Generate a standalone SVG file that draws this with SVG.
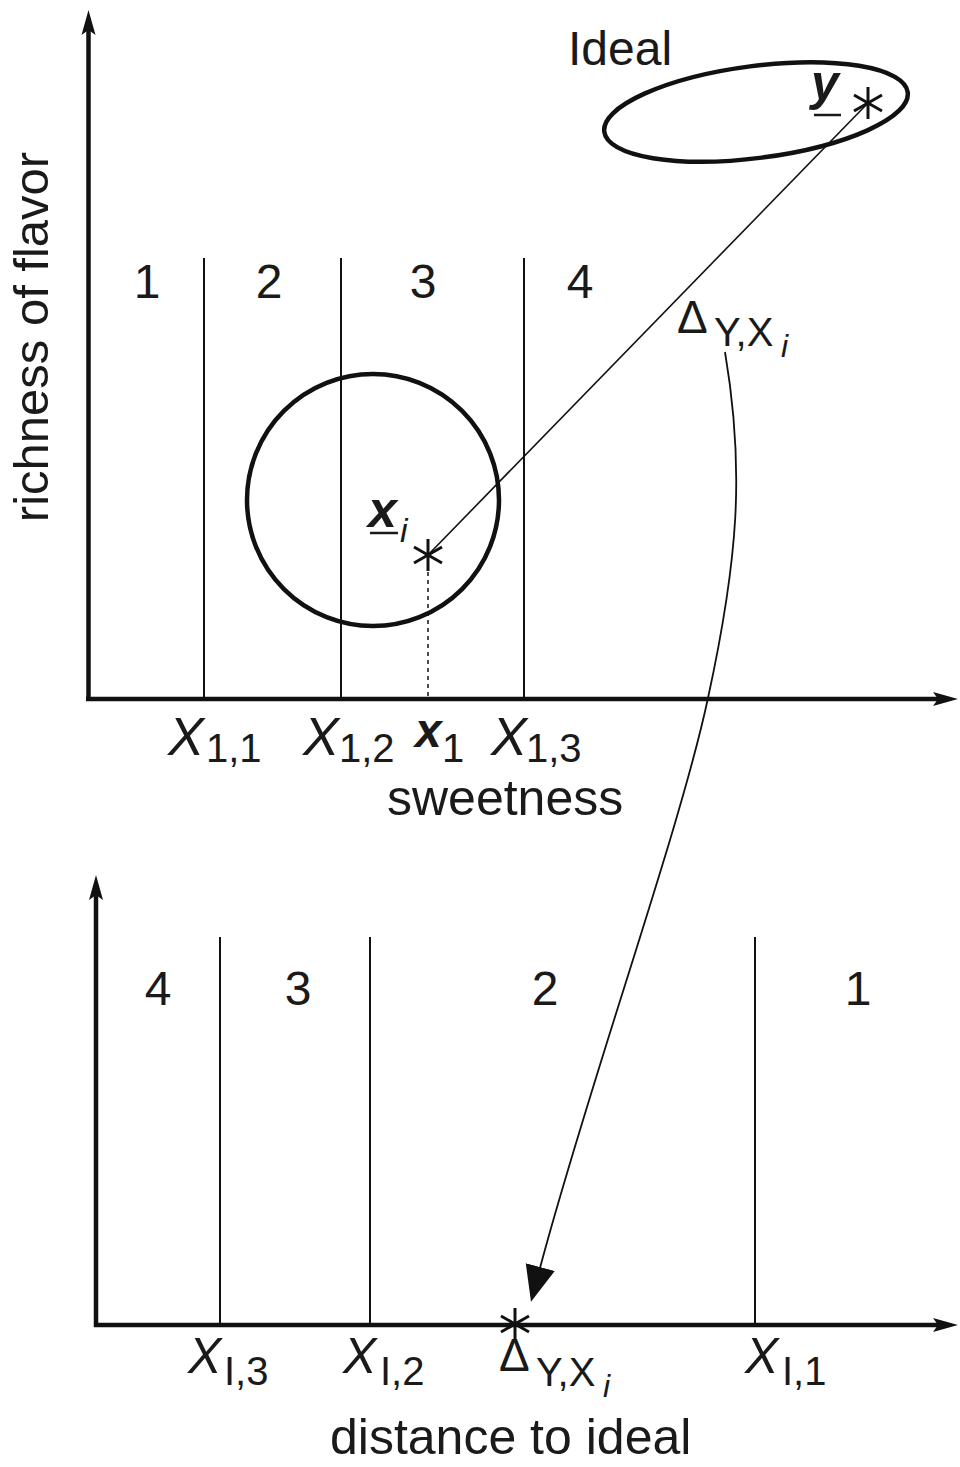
<svg xmlns="http://www.w3.org/2000/svg" width="960" height="1467" viewBox="0 0 960 1467">
<style>
text{font-family:"Liberation Sans",Arial,sans-serif;fill:#1a1a1a}
.n{font-size:48px}
.X{font-size:54px;font-style:italic}
.s{font-size:40px}
.si{font-size:32px;font-style:italic}
.bi{font-size:48px;font-style:italic;font-weight:bold}
.d{font-size:46px}
.axis{stroke:#111;stroke-width:4.5;fill:none}
.thin{stroke:#111;stroke-width:2;fill:none}
.thick{stroke:#111;stroke-width:4.5;fill:none}
.star line{stroke:#111;stroke-width:3}
</style>
<defs>
<marker id="ax" markerUnits="userSpaceOnUse" markerWidth="30" markerHeight="20" viewBox="0 -10 30 20" refX="5" refY="0" orient="auto">
<path d="M0,-7 L25,0 L0,7 L5,0 Z" fill="#111"/>
</marker>
<marker id="big" markerUnits="userSpaceOnUse" markerWidth="40" markerHeight="34" viewBox="0 -17 40 34" refX="1" refY="0" orient="auto">
<path d="M0,-15 L36,0 L0,15 Z" fill="#111"/>
</marker>
<g id="star" class="star">
<line x1="0" y1="-16" x2="0" y2="16"/>
<line x1="-14" y1="-8" x2="14" y2="8"/>
<line x1="-14" y1="8" x2="14" y2="-8"/>
</g>
</defs>

<g id="connectors">
<line class="axis" x1="88.5" y1="701" x2="88.5" y2="30" marker-end="url(#ax)"/>
<line class="axis" x1="86" y1="699" x2="938" y2="699" marker-end="url(#ax)"/>
<line class="axis" x1="96" y1="1327" x2="96" y2="895" marker-end="url(#ax)"/>
<line class="axis" x1="94" y1="1325" x2="938" y2="1325" marker-end="url(#ax)"/>
<line class="thin" x1="204" y1="258" x2="204" y2="699"/>
<line class="thin" x1="341" y1="258" x2="341" y2="699"/>
<line class="thin" x1="524" y1="258" x2="524" y2="699"/>
<line stroke="#111" stroke-width="1.5" stroke-dasharray="4 4" x1="428" y1="572" x2="428" y2="699"/>
<line class="thin" x1="220" y1="937" x2="220" y2="1325"/>
<line class="thin" x1="370" y1="937" x2="370" y2="1325"/>
<line class="thin" x1="755" y1="937" x2="755" y2="1325"/>
<line stroke="#111" stroke-width="1.6" x1="428" y1="555" x2="868" y2="103"/>
<path stroke="#111" stroke-width="1.8" fill="none" d="M725,352 C745,470 738,560 708,698 C680,830 590,1080 540,1268" marker-end="url(#big)"/>
</g>

<g id="ideal-ellipse">
<ellipse class="thick" cx="756" cy="112" rx="153" ry="46" transform="rotate(-7.4 756 112)"/>
<text class="n" x="568" y="65">Ideal</text>
</g>

<g id="y-point">
<use href="#star" x="868" y="103"/>
<text class="bi" x="811" y="100" style="font-size:50px">y</text>
<line stroke="#1a1a1a" stroke-width="2.5" x1="814" y1="115" x2="841" y2="115"/>
</g>

<g id="xi-circle">
<circle class="thick" cx="373" cy="500" r="126"/>
<use href="#star" x="428" y="555"/>
<text class="bi" x="368" y="527" style="font-size:52px">x</text>
<line stroke="#1a1a1a" stroke-width="2.5" x1="370" y1="533" x2="398" y2="533"/>
<text class="si" x="400" y="542" style="font-size:34px">i</text>
</g>

<g id="delta-label">
<text class="d" x="677" y="333">Δ</text>
<text class="s" x="714" y="346">Y,X</text>
<text class="si" x="781" y="357">i</text>
</g>

<g id="top-regions">
<text class="n" text-anchor="middle" x="147" y="298">1</text>
<text class="n" text-anchor="middle" x="269" y="298">2</text>
<text class="n" text-anchor="middle" x="423" y="298">3</text>
<text class="n" text-anchor="middle" x="580" y="298">4</text>
</g>

<g id="top-axis-labels">
<text class="n" transform="translate(48,337) rotate(-90)" text-anchor="middle" style="font-size:49px">richness of flavor</text>
<text class="X" x="168" y="755">X</text><text class="s" x="206" y="762">1,1</text>
<text class="X" x="303" y="755">X</text><text class="s" x="339" y="762">1,2</text>
<text class="bi" x="415" y="747">x</text><text class="s" x="442" y="762">1</text>
<text class="X" x="491" y="755">X</text><text class="s" x="526" y="762">1,3</text>
<text class="n" x="387" y="815" style="font-size:50px">sweetness</text>
</g>

<g id="bottom-regions">
<text class="n" text-anchor="middle" x="158" y="1005">4</text>
<text class="n" text-anchor="middle" x="298" y="1005">3</text>
<text class="n" text-anchor="middle" x="545" y="1005">2</text>
<text class="n" text-anchor="middle" x="858" y="1005">1</text>
</g>

<g id="bottom-axis-labels">
<use href="#star" x="515" y="1324"/>
<text class="X" x="188" y="1373" style="font-size:50px">X</text><text class="s" x="224" y="1385">I,3</text>
<text class="X" x="343" y="1373" style="font-size:50px">X</text><text class="s" x="380" y="1385">I,2</text>
<text class="d" x="499" y="1371">Δ</text><text class="s" x="536" y="1386">Y,X</text><text class="si" x="603" y="1397">i</text>
<text class="X" x="745" y="1373" style="font-size:50px">X</text><text class="s" x="782" y="1385">I,1</text>
<text class="n" x="330" y="1454" style="font-size:50px">distance to ideal</text>
</g>
</svg>
